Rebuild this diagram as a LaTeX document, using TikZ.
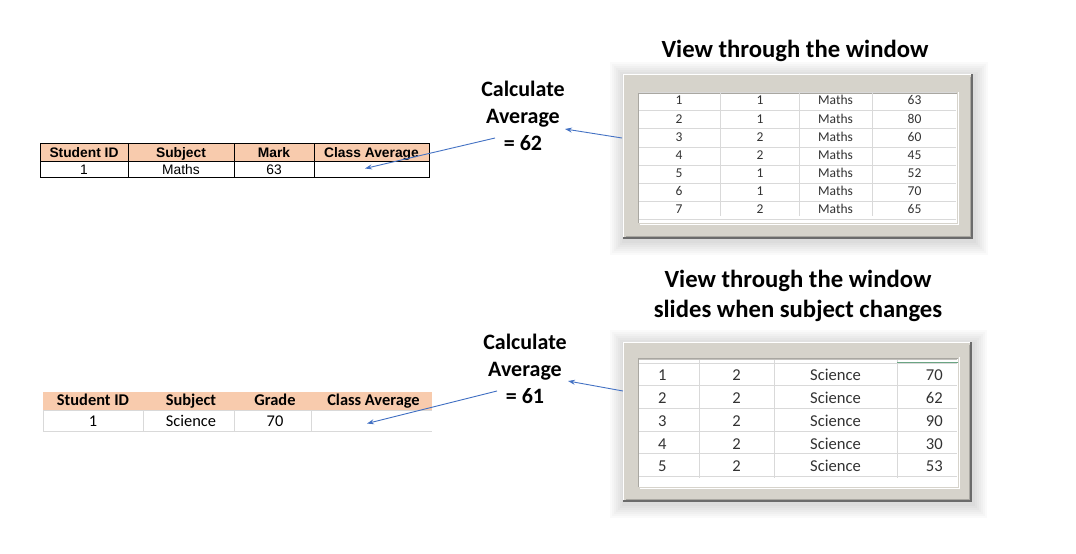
\documentclass[tikz,border=0pt]{standalone}
\usepackage{fontspec}
\setmainfont{Carlito}
\newfontfamily\arialf{Liberation Sans}
\usetikzlibrary{arrows.meta}
\definecolor{peach}{HTML}{F8CBAD}
\definecolor{framefill}{HTML}{D6D3CB}
\definecolor{framedark}{HTML}{6B6B6B}
\definecolor{framemid}{HTML}{A9A7A1}
\definecolor{gridc}{HTML}{D9D9D9}
\definecolor{arrowblue}{HTML}{4472C4}
\definecolor{celltext}{HTML}{333333}
\definecolor{excelgreen}{HTML}{6AA583}
\newcommand\mywinframe[8]{%
  \foreach \s in {14,12,10,8,6,4,2}{\fill[black,opacity=0.018] (#1-\s+1,#2-\s+2) rectangle (#3+\s+1,#4+\s+2);}
  \fill[framefill] (#1,#2) rectangle (#3,#4);
  \draw[framedark,line width=2] (#1,#4-1) -- (#3-1,#4-1) -- (#3-1,#2);
  \draw[white,line width=1] (#1+0.5,#4-2) -- (#1+0.5,#2+0.5) -- (#3-2,#2+0.5);
  \draw[framemid,line width=0.6] (#1+2.5,#4-3) -- (#3-3,#4-3) -- (#3-3,#2+2.5);
  \draw[white,line width=0.8] (#5+1.5,#8+1.5) -- (#7+1.5,#8+1.5) -- (#7+1.5,#6-1);
  \fill[white] (#5,#6) rectangle (#7,#8);
  \draw[framemid,line width=1] (#5,#8) -- (#5,#6) -- (#7,#6);
}
\tikzset{
  thead/.style={font=\arialf\bfseries\fontsize{13.8}{15}\selectfont, inner sep=0pt, text height=10pt, text depth=0pt},
  tcell/.style={font=\arialf\fontsize{13.8}{15}\selectfont, inner sep=0pt, text height=10pt, text depth=0pt},
  bhead/.style={font=\bfseries\fontsize{16.4}{18}\selectfont, inner sep=0pt, text height=10.6pt, text depth=0pt},
  bcell/.style={font=\fontsize{16.4}{18}\selectfont, inner sep=0pt, text height=10.6pt, text depth=0pt},
  wcell/.style={font=\fontsize{13.5}{15}\selectfont, text=celltext, inner sep=0pt, text height=8.8pt, text depth=0pt},
  wcellb/.style={font=\fontsize{16.6}{18}\selectfont, text=celltext, inner sep=0pt, text height=10.8pt, text depth=0pt},
  titletext/.style={font=\bfseries\fontsize{24.7}{30}\selectfont, align=center, inner sep=0pt},
  calctext/.style={font=\bfseries\fontsize{22}{27}\selectfont, align=center, inner sep=0pt},
  connector/.style={arrowblue, line width=0.9pt, -{Stealth[length=7pt,width=5pt]}},
}
\begin{document}
\begin{tikzpicture}[x=1pt,y=-1pt]
\useasboundingbox (0,0) rectangle (1076,554);
\fill[white] (0,0) rectangle (1076,554);

% ---------- top left table ----------
\fill[peach] (40,143) rectangle (429,161);
\draw[black,line width=0.8] (40,143) rectangle (429,177);
\draw[black,line width=0.8] (40,161) -- (429,161);
\foreach \x in {128,234,314}{\draw[black,line width=0.8] (\x,143) -- (\x,177);}
\node[thead] (h1) at (84,152) {Student ID};
\node[thead] (h2) at (181,152) {Subject};
\node[thead] (h3) at (274,152) {Mark};
\node[thead] (h4) at (371.5,152) {Class Average};
\node[tcell] (d1) at (84,169) {1};
\node[tcell] (d2) at (181,169) {Maths};
\node[tcell] (d3) at (274,169) {63};
\coordinate (avg1) at (365,168.5);

% ---------- bottom left table ----------
\fill[peach] (43,392) rectangle (432,410);
\draw[gridc,line width=0.8] (43,410) -- (43,431) -- (432,431);
\draw[gridc,line width=0.8] (43,410) -- (432,410);
\foreach \x in {143,234,311}{\draw[gridc,line width=0.8] (\x,410) -- (\x,431);}
\node[bhead] (g1) at (93,400) {Student ID};
\node[bhead] (g2) at (191,400) {Subject};
\node[bhead] (g3) at (275,400) {Grade};
\node[bhead] (g4) at (373.5,400) {Class Average};
\node[bcell] (e1) at (93,421.5) {1};
\node[bcell] (e2) at (191,421.5) {Science};
\node[bcell] (e3) at (275,421.5) {70};
\coordinate (avg2) at (367,423.5);

% ---------- top window ----------
\mywinframe{623}{74}{973}{239}{638}{93}{957}{223}
\foreach \k in {0,...,7}{\draw[gridc,line width=0.7] (639,92.5+18.15*\k) -- (956,92.5+18.15*\k);}
\foreach \x in {720,799,872}{\draw[gridc,line width=0.7] (\x,93) -- (\x,216);}
\foreach \i/\b/\m in {1/1/63,2/1/80,3/2/60,4/2/45,5/1/52,6/1/70,7/2/65}{
  \node[wcell] (wa\i) at (679,{100.5+18.15*(\i-1)}) {\i};
  \node[wcell] (wb\i) at (760,{100.5+18.15*(\i-1)}) {\b};
  \node[wcell] (wc\i) at (835.5,{100.5+18.15*(\i-1)}) {Maths};
  \node[wcell] (wd\i) at (914.5,{100.5+18.15*(\i-1)}) {\m};
}
\coordinate (win1) at (622,138);

% ---------- bottom window ----------
\mywinframe{623}{342}{972}{502}{638}{358}{958}{487}
\draw[framemid!70,line width=0.8] (639,359.5) -- (957,359.5);
\foreach \k in {0,...,5}{\draw[gridc,line width=0.7] (639,363+22.7*\k) -- (957,363+22.7*\k);}
\foreach \x in {699,774,897}{\draw[gridc,line width=0.7] (\x,360) -- (\x,478);}
\draw[excelgreen,line width=1.2] (897,362.5) -- (958,362.5);
\foreach \i/\m in {1/70,2/62,3/90,4/30,5/53}{
  \node[wcellb,anchor=west] (va\i) at (658,{375.5+22.7*(\i-1)}) {\i};
  \node[wcellb] (vb\i) at (736.5,{375.5+22.7*(\i-1)}) {2};
  \node[wcellb] (vc\i) at (835.5,{375.5+22.7*(\i-1)}) {Science};
  \node[wcellb,anchor=east] (vd\i) at (943,{375.5+22.7*(\i-1)}) {\m};
}
\coordinate (win2) at (623,391);

% ---------- titles ----------
\node[titletext] (title1) at (795,51) {View through the window};
\node[titletext] (title2) at (798,296) {View through the window\\slides when subject changes};

% ---------- calculate labels ----------
\node[calctext] (calc1) at (523,116) {Calculate\\Average\\= 62};
\node[calctext] (calc2) at (525,369) {Calculate\\Average\\= 61};
\coordinate (c1in) at (565,129);
\coordinate (c1out) at (495,138);
\coordinate (c2in) at (568,381);
\coordinate (c2out) at (497,391);

% ---------- connectors ----------
\draw[connector] (win1) -- (c1in);
\draw[connector] (c1out) -- (avg1);
\draw[connector] (win2) -- (c2in);
\draw[connector] (c2out) -- (avg2);
\end{tikzpicture}
\end{document}
